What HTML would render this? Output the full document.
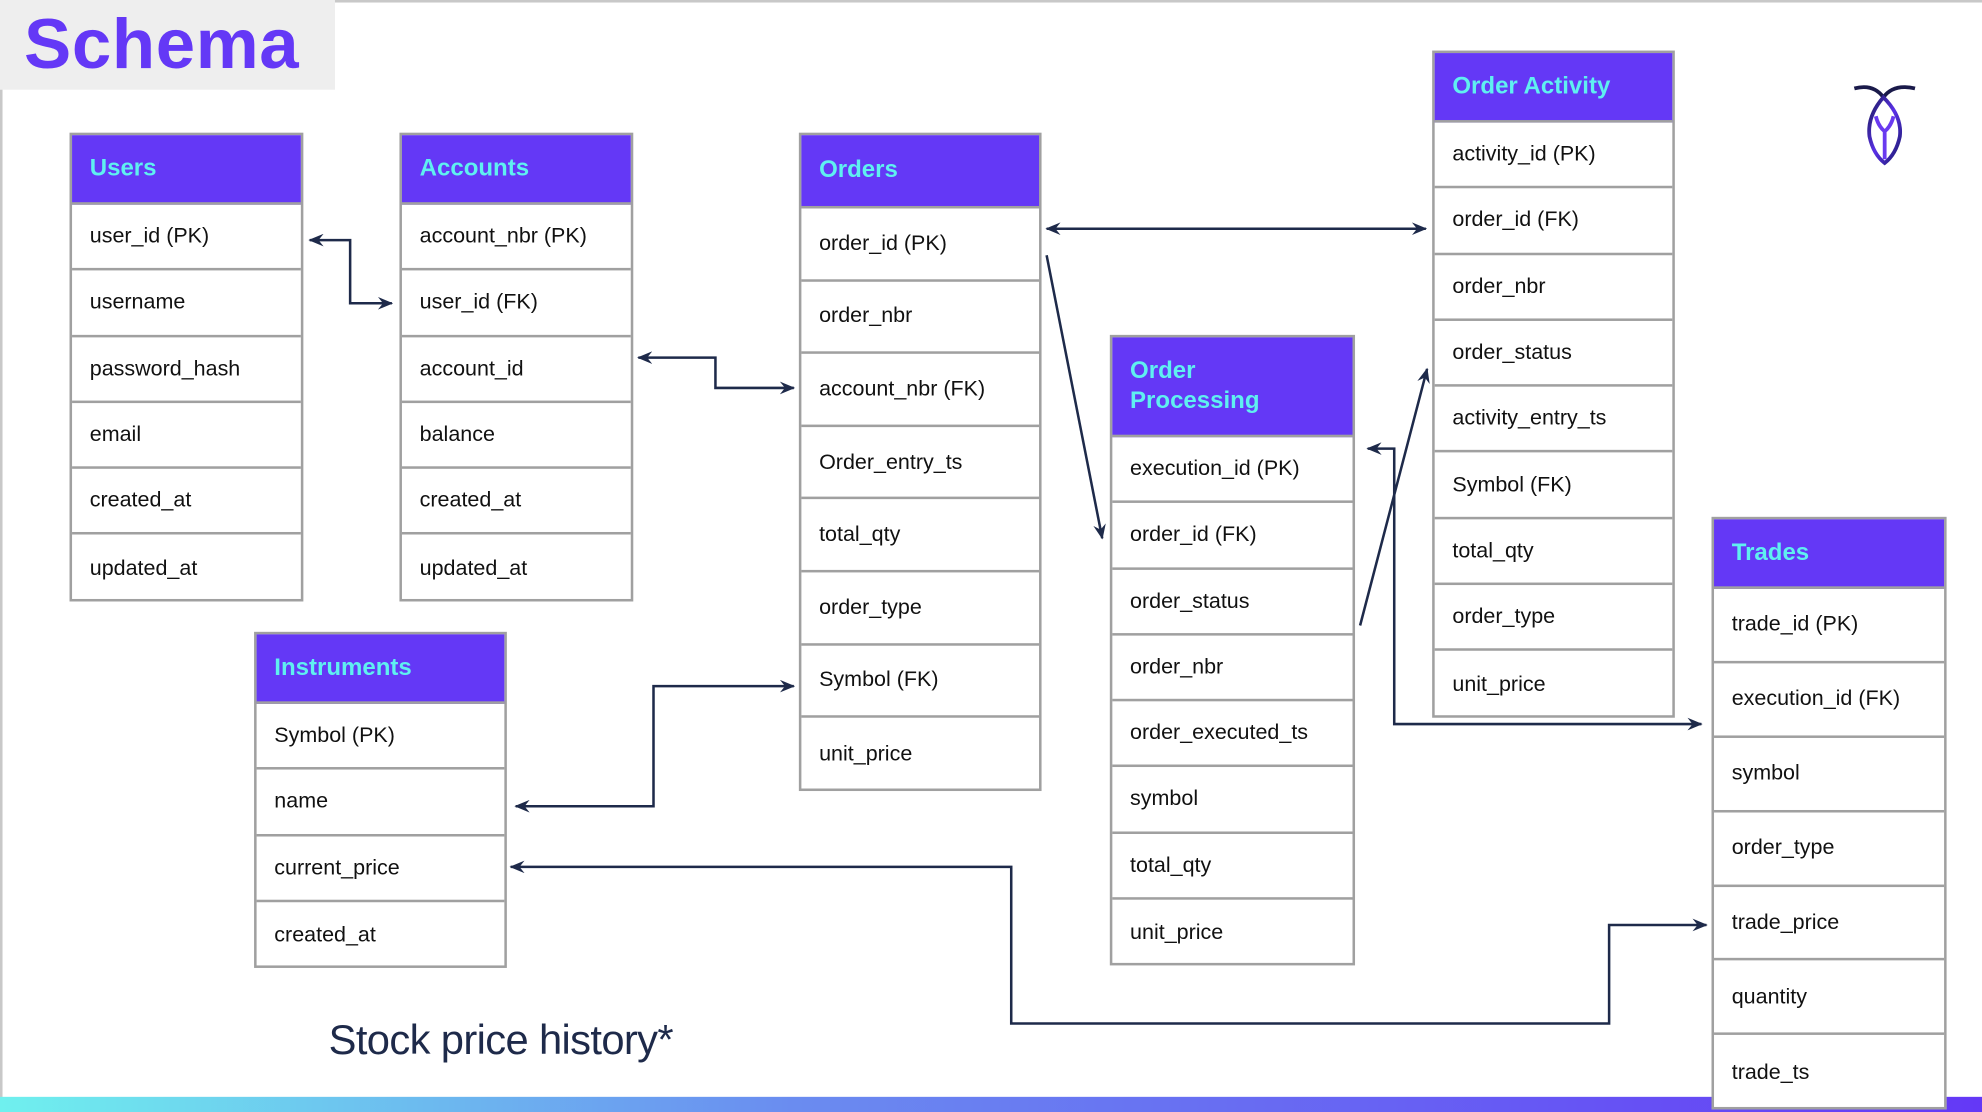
<!DOCTYPE html>
<html><head><meta charset="utf-8"><style>
html,body{margin:0;padding:0;background:#fff;overflow:hidden}
#w{width:1568px;height:880px;position:relative;transform:scale(1.26403,1.26364);transform-origin:0 0;font-family:"Liberation Sans",sans-serif}
.t{position:absolute;border:2px solid #a0a0a0;box-sizing:border-box;background:#fff}
.h{background:#6438f6;color:#5ff0f0;font-weight:bold;font-size:19px;padding-left:14px;box-sizing:border-box;display:flex;align-items:center;border-bottom:2px solid #a0a0a0}
.r{border-bottom:2px solid #a0a0a0;box-sizing:border-box;font-size:17px;color:#111;padding-left:14px;display:flex;align-items:center}
.r:last-child{border-bottom:none}
</style></head><body><div id="w">
<div style="position:absolute;left:0;top:0;width:1568px;height:880px;border-left:2px solid #c8c8c8;border-top:2px solid #c8c8c8;box-sizing:border-box"></div>
<div style="position:absolute;left:0;top:0;width:265px;height:71px;background:#eeeeee"></div>
<div style="position:absolute;left:19px;top:2px;font-size:56px;font-weight:bold;color:#6438f6;letter-spacing:0.5px">Schema</div>
<div style="position:absolute;left:0;top:868px;width:1568px;height:12px;background:linear-gradient(90deg,#6ff0ee,#6a8cf0 40%,#6438f6)"></div>
<div style="position:absolute;left:260px;top:804px;font-size:33px;color:#1e2a4a;letter-spacing:-0.5px">Stock price history*</div>
<svg style="position:absolute;left:1460px;top:62px" width="64" height="72" viewBox="0 0 64 72">
<defs><linearGradient id="g" x1="0" y1="0" x2="1" y2="1"><stop offset="0" stop-color="#1a1a5a"/><stop offset=".5" stop-color="#5a30e8"/><stop offset="1" stop-color="#1a1a6a"/></linearGradient></defs>
<path d="M7 8 Q22 4 30 15 Q38 4 55 8" fill="none" stroke="#1a1a4a" stroke-width="3"/>
<path d="M30 15 Q17 30 19 46 Q22 60 31 67 Q40 60 43 46 Q45 30 30 15Z" fill="none" stroke="url(#g)" stroke-width="3"/>
<path d="M24 30 Q26 38 31 42 Q36 38 38 30 M31 42 V64" fill="none" stroke="#6a3af0" stroke-width="3"/>
</svg>
<svg style="position:absolute;left:0;top:0" width="1568" height="880">
<defs><marker id="a" markerWidth="12" markerHeight="10" refX="11" refY="5" orient="auto-start-reverse" markerUnits="userSpaceOnUse"><path d="M0 0 L12 5 L0 10 L4 5Z" fill="#1e2a4a"/></marker></defs>
<g fill="none" stroke="#1e2a4a" stroke-width="2" marker-start="url(#a)" marker-end="url(#a)">
<polyline points="245,190 277,190 277,240 310,240"/>
<polyline points="505,283 566,283 566,307 628,307"/>
<polyline points="828,181 1128,181"/>
<polyline points="1082,355 1103,355 1103,573 1346,573"/>
<polyline points="408,638 517,638 517,543 628,543"/>
<polyline points="404,686 800,686 800,810 1273,810 1273,732 1350,732"/>
</g>
<g fill="none" stroke="#1e2a4a" stroke-width="2" marker-end="url(#a)">
<line x1="828" y1="202" x2="872" y2="426"/>
<line x1="1076" y1="495" x2="1129" y2="292"/>
</g>
</svg>
<div id="tables"></div>
</div>
<script>
var T=[
["Users",55,105,185,55,52.3,["user_id (PK)","username","password_hash","email","created_at","updated_at"]],
["Accounts",316,105,185,55,52.3,["account_nbr (PK)","user_id (FK)","account_id","balance","created_at","updated_at"]],
["Orders",632,105,192,58,57.6,["order_id (PK)","order_nbr","account_nbr (FK)","Order_entry_ts","total_qty","order_type","Symbol (FK)","unit_price"]],
["Order<br>Processing",878,265,194,79,52.25,["execution_id (PK)","order_id (FK)","order_status","order_nbr","order_executed_ts","symbol","total_qty","unit_price"]],
["Order Activity",1133,40,192,55,52.3,["activity_id (PK)","order_id (FK)","order_nbr","order_status","activity_entry_ts","Symbol (FK)","total_qty","order_type","unit_price"]],
["Instruments",201,500,200,55,52.3,["Symbol (PK)","name","current_price","created_at"]],
["Trades",1354,409,186,55,58.9,["trade_id (PK)","execution_id (FK)","symbol","order_type","trade_price","quantity","trade_ts"]]
];
var s="";
T.forEach(function(t){
 var h=t[4]+t[5]*t[6].length+2;
 s+='<div class="t" style="left:'+t[1]+'px;top:'+t[2]+'px;width:'+t[3]+'px;height:'+h+'px"><div class="h" style="height:'+t[4]+'px;line-height:24px">'+t[0]+'</div>';
 t[6].forEach(function(r){s+='<div class="r" style="height:'+t[5]+'px">'+r+'</div>';});
 s+='</div>';
});
document.getElementById("tables").innerHTML=s;
</script>
</body></html>
